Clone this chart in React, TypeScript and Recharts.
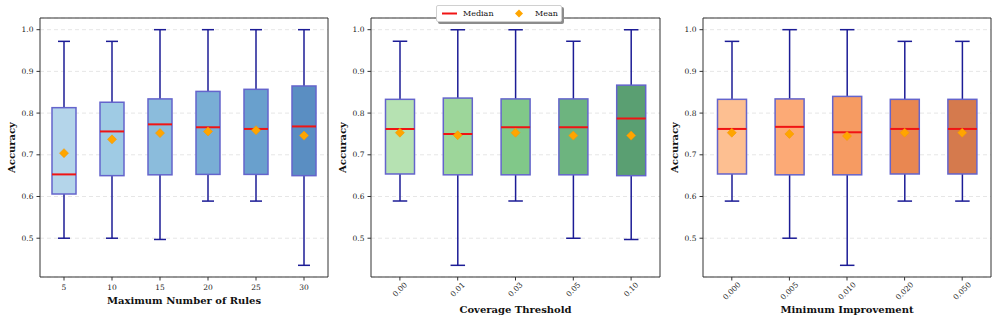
import React from "react"
import { ComposedChart, Bar, Scatter, XAxis, YAxis, CartesianGrid, ReferenceArea } from "recharts"

// Maximum Number of Rules
const rulesLabels = ["5", "10", "15", "20", "25", "30"]
const rulesMin = [0.5, 0.5, 0.497, 0.589, 0.589, 0.435]
const rulesQ1 = [0.606, 0.65, 0.652, 0.653, 0.653, 0.65]
const rulesMedian = [0.653, 0.756, 0.773, 0.766, 0.762, 0.768]
const rulesQ3 = [0.813, 0.826, 0.834, 0.852, 0.857, 0.865]
const rulesMax = [0.972, 0.972, 1.0, 1.0, 1.0, 1.0]
const rulesMean = [0.704, 0.737, 0.752, 0.756, 0.759, 0.746]

// Coverage Threshold
const covLabels = ["0.00", "0.01", "0.03", "0.05", "0.10"]
const covMin = [0.589, 0.435, 0.589, 0.5, 0.497]
const covQ1 = [0.654, 0.652, 0.652, 0.652, 0.65]
const covMedian = [0.762, 0.75, 0.766, 0.766, 0.787]
const covQ3 = [0.833, 0.836, 0.834, 0.834, 0.867]
const covMax = [0.972, 1.0, 1.0, 0.972, 1.0]
const covMean = [0.753, 0.747, 0.753, 0.746, 0.746]

// Minimum Improvement
const impLabels = ["0.000", "0.005", "0.010", "0.020", "0.050"]
const impMin = [0.589, 0.5, 0.435, 0.589, 0.589]
const impQ1 = [0.654, 0.652, 0.652, 0.654, 0.654]
const impMedian = [0.762, 0.767, 0.754, 0.762, 0.762]
const impQ3 = [0.833, 0.834, 0.84, 0.833, 0.833]
const impMax = [0.972, 1.0, 1.0, 0.972, 0.972]
const impMean = [0.753, 0.75, 0.745, 0.753, 0.753]

const yTicks = [0.5, 0.6, 0.7, 0.8, 0.9, 1.0]
const yDomain = [0.407, 1.028]

// box colours (per panel)
const blues = ["#b4d5ea", "#9fcbe4", "#8bbcdc", "#79aed5", "#69a0cd", "#5a8ec2"]
const greens = ["#b6e2b2", "#9dd69a", "#81c889", "#6db47f", "#5a9f72"]
const oranges = ["#fdbf91", "#fcaa76", "#f69b62", "#e98751", "#d57a4d"]

const FONT = "'DejaVu Serif', serif"
const WHISKER = "#1c1c96"
const EDGE = "#6464cc"

const makeRows = (labels: string[], min: number[], q1: number[], med: number[], q3: number[], max: number[], mean: number[]) =>
  labels.map((label, i) => ({
    label,
    min: min[i],
    q1: q1[i],
    median: med[i],
    q3: q3[i],
    max: max[i],
    mean: mean[i],
  }))

const makeBox = (colors: string[]) => (props: any) => {
  const { x, y, width, height, payload, index } = props
  if (!payload) return null
  const top = Math.min(y, y + height)
  const bot = Math.max(y, y + height)
  const span = payload.max - payload.min
  // value -> pixel, using the bar's scaled extent (min..max)
  const py = (v: number) => top + ((payload.max - v) / span) * (bot - top)
  const cx = x + width / 2
  const bw = width * 0.5
  const cw = width * 0.25
  const yq1 = py(payload.q1)
  const yq3 = py(payload.q3)
  const ymed = py(payload.median)
  return (
    <g>
      <line x1={cx} x2={cx} y1={top} y2={yq3} stroke={WHISKER} strokeWidth={1.5} />
      <line x1={cx} x2={cx} y1={yq1} y2={bot} stroke={WHISKER} strokeWidth={1.5} />
      <line x1={cx - cw / 2} x2={cx + cw / 2} y1={top} y2={top} stroke={WHISKER} strokeWidth={1.5} />
      <line x1={cx - cw / 2} x2={cx + cw / 2} y1={bot} y2={bot} stroke={WHISKER} strokeWidth={1.5} />
      <rect x={cx - bw / 2} y={yq3} width={bw} height={yq1 - yq3} fill={colors[index % colors.length]} stroke={EDGE} strokeWidth={1.5} />
      <line x1={cx - bw / 2} x2={cx + bw / 2} y1={ymed} y2={ymed} stroke="#f01414" strokeWidth={2} />
    </g>
  )
}

const MeanDiamond = (props: any) => {
  const { cx, cy } = props
  const r = 4.5
  return <polygon points={`${cx},${cy - r} ${cx + r},${cy} ${cx},${cy + r} ${cx - r},${cy}`} fill="#ffa500" stroke="#f59800" strokeWidth={0.6} />
}

const XTick = (props: any) => {
  const { x, y, payload, rotate } = props
  if (rotate) {
    const len = String(payload.value).length
    const cy = y + 1.5 * len - 1
    return (
      <text x={x} y={cy} transform={`rotate(-45 ${x} ${cy})`} textAnchor="middle" dominantBaseline="central" fontSize={7.5} fill="#222" fontFamily={FONT}>
        {payload.value}
      </text>
    )
  }
  return (
    <text x={x} y={y} dy="0.71em" textAnchor="middle" fontSize={7.5} fill="#222" fontFamily={FONT}>
      {payload.value}
    </text>
  )
}

const YTitle = (props: any) => {
  const vb = props.viewBox
  const cx = vb.x + vb.width - 29
  const cy = vb.y + vb.height / 2
  return (
    <text x={cx} y={cy} transform={`rotate(-90 ${cx} ${cy})`} textAnchor="middle" dominantBaseline="central" fontSize={10} fontWeight="bold" fill="#111" fontFamily={FONT}>
      Accuracy
    </text>
  )
}

const XTitle = (props: any) => {
  const { viewBox, text, base } = props
  return (
    <text x={viewBox.x + viewBox.width / 2} y={viewBox.y + base} textAnchor="middle" fontSize={10} fontWeight="bold" fill="#111" fontFamily={FONT}>
      {text}
    </text>
  )
}

type PanelProps = {
  rows: any[]
  colors: string[]
  title: string
  rotate: boolean
  left: number
  width: number
  yWidth: number
  right: number
  titleBase: number
}

const Panel = ({ rows, colors, title, rotate, left, width, yWidth, right, titleBase }: PanelProps) => (
  <div style={{ position: "absolute", left, top: 0 }}>
    <ComposedChart width={width} height={327} data={rows} margin={{ top: 18, right, bottom: 0, left: 0 }} barCategoryGap={0}>
      <CartesianGrid vertical={false} stroke="#e6e6e6" strokeDasharray="4 3" />
      <XAxis
        dataKey="label"
        type="category"
        height={50}
        axisLine={false}
        tickSize={3.5}
        tickMargin={4}
        tickLine={{ stroke: "#333" }}
        tick={<XTick rotate={rotate} />}
        interval={0}
        label={<XTitle text={title} base={titleBase} />}
      />
      <YAxis
        type="number"
        domain={yDomain}
        allowDataOverflow
        ticks={yTicks}
        width={yWidth}
        axisLine={false}
        tickSize={3.5}
        tickMargin={3}
        tickLine={{ stroke: "#333" }}
        tick={{ fontSize: 7.5, fill: "#222", fontFamily: FONT }}
        tickFormatter={(v: number) => v.toFixed(1)}
        label={<YTitle />}
      />
      <Bar dataKey={(d: any) => [d.min, d.max]} shape={makeBox(colors)} isAnimationActive={false} />
      <Scatter dataKey="mean" shape={<MeanDiamond />} isAnimationActive={false} />
      <ReferenceArea y1={yDomain[0]} y2={yDomain[1]} fill="none" stroke="#333" strokeWidth={1} ifOverflow="visible" />
    </ComposedChart>
  </div>
)

const Legend = () => (
  <div
    style={{
      position: "absolute",
      left: 436,
      top: 5,
      width: 124,
      height: 15,
      background: "#fff",
      border: "1px solid #d0d0d0",
      borderRadius: 2,
      boxShadow: "2px 2px 0 #8c8c8c",
      fontFamily: FONT,
      fontSize: 8,
      color: "#111",
      zIndex: 2,
    }}
  >
    <svg width={124} height={15} style={{ display: "block" }}>
      <line x1={5} x2={20} y1={7.5} y2={7.5} stroke="#f01414" strokeWidth={2} />
      <text x={26} y={7.5} dominantBaseline="central" fontSize={8} fontFamily={FONT} fill="#111">Median</text>
      <polygon points="82,3.5 86,7.5 82,11.5 78,7.5" fill="#ffa500" />
      <text x={98} y={7.5} dominantBaseline="central" fontSize={8} fontFamily={FONT} fill="#111">Mean</text>
    </svg>
  </div>
)

const App = () => {
  const rulesRows = makeRows(rulesLabels, rulesMin, rulesQ1, rulesMedian, rulesQ3, rulesMax, rulesMean)
  const covRows = makeRows(covLabels, covMin, covQ1, covMedian, covQ3, covMax, covMean)
  const impRows = makeRows(impLabels, impMin, impQ1, impMedian, impQ3, impMax, impMean)
  return (
    <div style={{ position: "fixed", left: 0, top: 0, width: 997, height: 327, background: "#fff", fontFamily: FONT }}>
      <Panel rows={rulesRows} colors={blues} title="Maximum Number of Rules" rotate={false} left={0} width={330} yWidth={40} right={2} titleBase={27} />
      <Panel rows={covRows} colors={greens} title="Coverage Threshold" rotate={true} left={330} width={332} yWidth={41} right={2} titleBase={36} />
      <Panel rows={impRows} colors={oranges} title="Minimum Improvement" rotate={true} left={662} width={335} yWidth={41} right={6} titleBase={36} />
      <Legend />
    </div>
  )
}

export default App
